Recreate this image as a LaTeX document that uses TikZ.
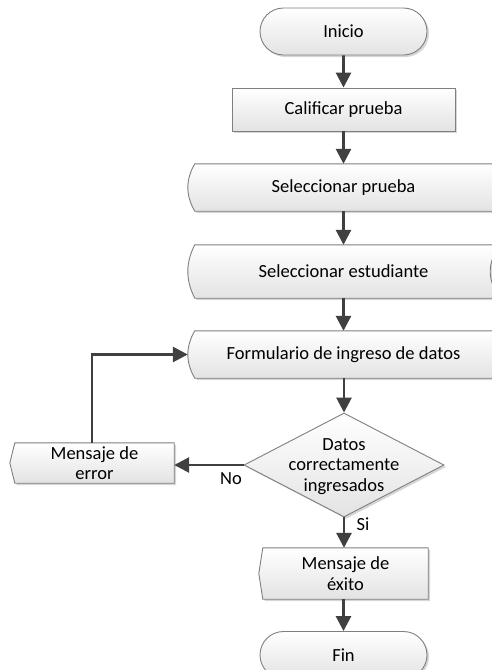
\documentclass[tikz,border=0pt]{standalone}
\usepackage{fontspec}
\setmainfont{Carlito}
\usetikzlibrary{shapes.misc,shapes.geometric,arrows.meta,shadows,calc}
\pgfdeclarelayer{bg}
\pgfsetlayers{bg,main}
\definecolor{bordc}{HTML}{7F7F7F}
\definecolor{arrc}{HTML}{404040}
\tikzset{
  fillbox/.style={draw=bordc, line width=0.9pt, top color=white, bottom color=black!11,
    drop shadow={shadow xshift=2pt, shadow yshift=-2pt, fill=black, opacity=0.16}},
  lbl/.style={font=\fontsize{18.5}{20.5}\selectfont, align=center, inner sep=0pt},
  termbox/.style={fillbox, lbl, rounded rectangle, minimum width=167pt, minimum height=47pt},
  procbox/.style={fillbox, lbl, rectangle, minimum width=223pt, minimum height=43pt},
  decbox/.style={fillbox, diamond, inner sep=0pt, minimum width=200pt, minimum height=104pt},
  textbox/.style={lbl, draw=none},
  arr/.style={draw=arrc, line width=2.8pt, -{Triangle[width=15pt,length=15pt]}},
}
\newcommand\sdpath[3]{%
  \path[fillbox] let \p1=(#1.north west), \p2=(#1.south east) in
    (\x1,\y1) -- ({\x2+#2pt},\y1)
    .. controls ({\x2+#2pt-1.333*#3pt},{0.667*\y1+0.333*\y2}) and ({\x2+#2pt-1.333*#3pt},{0.333*\y1+0.667*\y2}) .. ({\x2+#2pt},\y2)
    -- (\x1,\y2)
    .. controls ({\x1-9.3pt},{0.333*\y1+0.667*\y2}) and ({\x1-9.3pt},{0.667*\y1+0.333*\y2}) .. (\x1,\y1) -- cycle;}
\newcommand\disppath[2]{%
  \path[fillbox] let \p1=(#1.north west), \p2=(#1.south east), \p3=(#1.west) in
    (\x1,\y1) -- (\x2,\y1) -- (\x2,\y2) -- (\x1,\y2) -- ({\x1-#2pt},\y3) -- cycle;}
\begin{document}
\begin{tikzpicture}[x=1pt,y=-1pt]
\useasboundingbox (0,0) rectangle (492,670);
\clip (0,0) rectangle (492,670);
% nodes
\node[termbox] (ini) at (343.5,31.5) {Inicio};
\node[procbox] (cal) at (343.5,109.5) {Calificar prueba};
\node[textbox, minimum width=297pt, minimum height=47pt] (sp) at (343.5,187.5) {Seleccionar prueba};
\node[textbox, minimum width=297pt, minimum height=53pt] (se) at (343.5,271.5) {Seleccionar estudiante};
\node[textbox, minimum width=297pt, minimum height=47pt] (fo) at (343.5,354.5) {Formulario de ingreso de datos};
\node[decbox] (dia) at (344,465) {};
\node[textbox] (diatxt) at (344,466.5) {Datos\\correctamente\\ingresados};
\node[textbox, minimum width=159pt, minimum height=40pt] (err) at (94.5,463) {Mensaje de\\error};
\node[textbox, minimum width=165pt, minimum height=51pt] (exi) at (345.5,573.5) {Mensaje de\\éxito};
\node[termbox] (fin) at (343.5,655) {Fin};
\node[textbox] (nolbl) at (231,479) {No};
\node[textbox] (silbl) at (363,524) {Si};
% custom shapes behind text
\begin{pgfonlayer}{bg}
  \sdpath{sp}{20}{10}
  \sdpath{se}{8}{10}
  \sdpath{fo}{20}{10}
  \disppath{err}{5}
  \disppath{exi}{4}
\end{pgfonlayer}
% connectors
\draw[arr] (ini) -- (cal);
\draw[arr] (cal) -- (sp);
\draw[arr] (sp) -- (se);
\draw[arr] (se) -- (fo);
\draw[arr] (fo.south -| dia.north) -- (dia.north);
\draw[arr] (dia.west) -- (dia.west -| err.east);
\draw[arr] ([xshift=-2.5pt]err.north) |- ([xshift=-7pt]fo.west);
\draw[arr] (dia.south) -- (dia.south |- exi.north);
\draw[arr] (exi.south -| fin.north) -- (fin.north);
\end{tikzpicture}
\end{document}
